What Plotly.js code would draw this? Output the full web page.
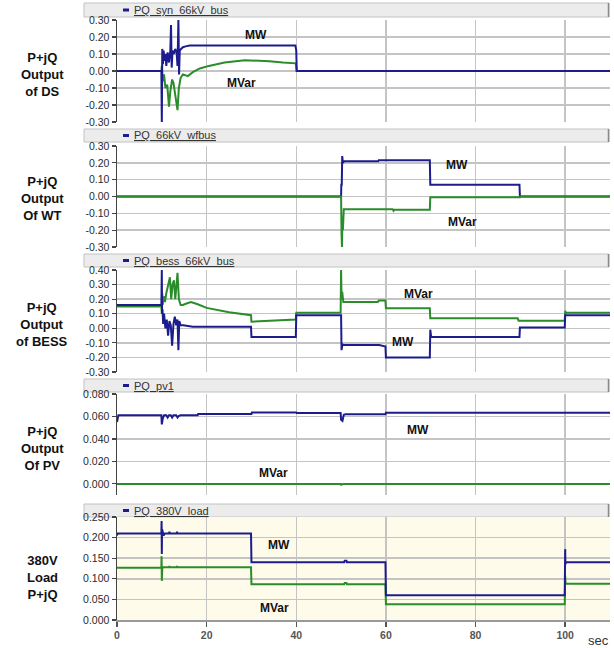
<!DOCTYPE html>
<html><head><meta charset="utf-8">
<script src="https://cdn.plot.ly/plotly-3.0.1.min.js"></script>
<style>html,body{margin:0;padding:0;background:#fff;}#chart{width:614px;height:648px;}</style>
</head><body><div id="chart"></div>
<script>
// ---------- DATA ----------
const xTicks = [0, 20, 40, 60, 80, 100];

const ds_mw_t = [0, 9.9, 10.0, 10.1, 10.25, 10.4, 10.6, 10.8, 11.0, 11.3, 11.6, 11.9, 12.05, 12.2, 12.4, 12.7, 13.0, 13.3, 13.5, 13.7, 13.85, 14.0, 14.3, 14.7, 15.3, 16.2, 20, 30, 39.8, 40.0, 40.1, 110];
const ds_mw = [0, 0, -0.30, 0.13, 0.04, 0.12, 0.06, 0.10, 0.03, 0.11, 0.05, 0.12, 0.27, 0.02, 0.12, 0.10, 0.13, 0.11, 0.03, 0.30, -0.02, 0.12, 0.13, 0.14, 0.145, 0.15, 0.15, 0.15, 0.15, 0.12, 0, 0];
const ds_mvar_t = [0, 9.9, 10.0, 10.2, 10.5, 10.8, 11.2, 11.6, 11.9, 12.3, 12.6, 13.0, 13.5, 13.8, 14.2, 14.7, 15.3, 15.8, 17.0, 18.5, 20.5, 24, 28.5, 31, 34, 37, 39.9, 40.0, 40.1, 110];
const ds_mvar = [0, 0, 0.03, -0.06, -0.02, -0.10, -0.08, -0.21, -0.12, -0.05, -0.07, -0.15, -0.23, -0.10, -0.04, -0.02, -0.025, -0.03, -0.005, 0.015, 0.03, 0.05, 0.063, 0.062, 0.058, 0.05, 0.045, 0.02, 0, 0];

const wt_mw_t = [0, 50.0, 50.05, 50.15, 50.25, 50.4, 50.7, 58.3, 58.4, 69.8, 69.9, 70.1, 89.8, 89.9, 110];
const wt_mw = [0, 0, 0.07, 0.07, 0.24, 0.20, 0.21, 0.21, 0.215, 0.215, 0.07, 0.07, 0.07, 0, 0];
const wt_mvar_t = [0, 50.0, 50.1, 50.2, 50.3, 50.4, 50.6, 61.5, 61.7, 61.9, 69.8, 69.9, 89.9, 90.0, 110];
const wt_mvar = [0, 0, -0.22, -0.30, -0.12, -0.20, -0.075, -0.075, -0.085, -0.078, -0.078, -0.005, -0.005, 0, 0];

const bess_mw_t = [0, 9.9, 10.0, 10.05, 10.15, 10.3, 10.5, 10.8, 11.1, 11.4, 11.7, 12.0, 12.3, 12.6, 12.9, 13.2, 13.5, 13.7, 13.9, 14.2, 14.8, 16.9, 29.9, 30.0, 39.9, 40.0, 50.0, 50.1, 50.3, 50.6, 58.5, 59.9, 60.0, 69.8, 69.9, 70.1, 89.8, 89.9, 99.9, 100.0, 110];
const bess_mw = [0.16, 0.16, 0.40, 0.10, 0.13, 0.03, 0.10, 0.00, 0.06, -0.05, 0.05, 0.02, -0.12, 0.03, 0.08, 0.02, 0.06, -0.15, 0.05, 0.02, 0.02, 0.01, 0.01, -0.06, -0.06, 0.09, 0.09, -0.15, -0.11, -0.115, -0.115, -0.125, -0.20, -0.20, -0.01, -0.06, -0.06, 0.005, 0.005, 0.09, 0.09];
const bess_mvar_t = [0, 9.9, 10.0, 10.1, 10.2, 10.4, 10.7, 11.0, 11.4, 11.8, 12.1, 12.4, 12.7, 13.0, 13.5, 13.8, 14.2, 14.7, 15.5, 16.5, 18, 20, 25, 29.9, 30.0, 33, 39.9, 40.0, 49.9, 50.0, 50.1, 50.25, 50.5, 58.2, 58.4, 59.9, 60.0, 69.8, 69.9, 89.4, 89.6, 99.9, 100.0, 100.15, 100.3, 110];
const bess_mvar = [0.15, 0.15, 0.10, 0.24, 0.16, 0.22, 0.18, 0.24, 0.30, 0.35, 0.20, 0.30, 0.33, 0.20, 0.38, 0.20, 0.16, 0.16, 0.17, 0.18, 0.165, 0.14, 0.11, 0.09, 0.045, 0.05, 0.06, 0.107, 0.107, 0.40, 0.20, 0.25, 0.18, 0.18, 0.19, 0.19, 0.137, 0.137, 0.069, 0.069, 0.052, 0.052, 0.12, 0.10, 0.107, 0.107];

const pv_mw_t = [0, 0.3, 9.9, 10.0, 10.2, 10.5, 11.0, 11.3, 11.6, 12.0, 12.3, 12.6, 13.2, 13.5, 13.8, 14.2, 18.0, 18.1, 30.0, 30.1, 40.0, 40.1, 49.9, 50.0, 50.3, 50.6, 51.0, 59.9, 60.0, 110];
const pv_mw = [0.055, 0.061, 0.061, 0.053, 0.058, 0.061, 0.061, 0.059, 0.061, 0.061, 0.059, 0.061, 0.061, 0.059, 0.0605, 0.061, 0.061, 0.0622, 0.0622, 0.0635, 0.0635, 0.063, 0.063, 0.057, 0.056, 0.0615, 0.062, 0.062, 0.0632, 0.0632];
const pv_mvar_t = [0, 49.9, 50.0, 50.3, 50.6, 110];
const pv_mvar = [0, 0, -0.0008, -0.0005, 0, 0];

const load_mw_t = [0, 0.15, 9.9, 9.95, 10.0, 10.05, 10.1, 10.2, 10.4, 10.7, 11.6, 11.7, 11.8, 13.3, 13.4, 13.5, 29.9, 30.0, 50.7, 50.8, 51.2, 51.3, 59.9, 60.0, 99.9, 100.0, 100.05, 100.15, 110];
const load_mw = [0.205, 0.21, 0.21, 0.24, 0.16, 0.22, 0.20, 0.215, 0.205, 0.21, 0.21, 0.214, 0.21, 0.21, 0.214, 0.21, 0.21, 0.14, 0.14, 0.144, 0.144, 0.14, 0.14, 0.06, 0.06, 0.172, 0.135, 0.14, 0.14];
const load_mvar_t = [0, 9.9, 9.95, 10.0, 10.05, 10.1, 10.3, 11.6, 11.7, 11.8, 13.3, 13.4, 13.5, 29.9, 30.0, 50.7, 50.8, 51.2, 51.3, 59.9, 60.0, 99.9, 100.0, 100.1, 110];
const load_mvar = [0.127, 0.127, 0.155, 0.095, 0.135, 0.125, 0.128, 0.128, 0.131, 0.128, 0.128, 0.131, 0.128, 0.128, 0.087, 0.087, 0.09, 0.09, 0.087, 0.087, 0.038, 0.038, 0.108, 0.088, 0.088];

const yTicksPQ = [-0.3, -0.2, -0.1, 0, 0.1, 0.2, 0.3];
const yTextPQ = ['-0.30', '-0.20', '-0.10', '0.00', '0.10', '0.20', '0.30'];
const yTicksBess = [-0.3, -0.2, -0.1, 0, 0.1, 0.2, 0.3, 0.4];
const yTextBess = ['-0.30', '-0.20', '-0.10', '0.00', '0.10', '0.20', '0.30', '0.40'];
const yTicksPV = [0, 0.02, 0.04, 0.06, 0.08];
const yTextPV = ['0.000', '0.020', '0.040', '0.060', '0.080'];
const yTicksLoad = [0, 0.05, 0.1, 0.15, 0.2, 0.25];
const yTextLoad = ['0.000', '0.050', '0.100', '0.150', '0.200', '0.250'];

const headerNames = ['PQ_syn_66kV_bus', 'PQ_66kV_wfbus', 'PQ_bess_66kV_bus', 'PQ_pv1', 'PQ_380V_load'];
const sideLabels = ['P+jQ<br>Output<br>of DS', 'P+jQ<br>Output<br>Of WT', 'P+jQ<br>Output<br>of BESS', 'P+jQ<br>Output<br>Of PV', '380V<br>Load<br>P+jQ'];

// in-plot labels: [panel, text, t, value]
const inLabels = [
  [1, 'MW', 31.1, 0.21], [1, 'MVar', 27.7, -0.069],
  [2, 'MW', 75.9, 0.19], [2, 'MVar', 77.1, -0.154],
  [3, 'MVar', 67.2, 0.233], [3, 'MW', 63.9, -0.092],
  [4, 'MW', 67.1, 0.0476], [4, 'MVar', 35.0, 0.0096],
  [5, 'MW', 36.2, 0.181], [5, 'MVar', 35.2, 0.0285]
];

// ---------- LAYOUT GEOMETRY ----------
const L = 117, R = 4, T = 0, B = 28, FW = 614, FH = 648;
const PW = FW - L - R, PH = FH - T - B;
const fx = px => (px - L) / PW;
const fy = py => (PH - (py - T)) / PH;

const plotPx = [[20, 122], [146, 247], [270, 372], [394, 495], [517, 620]];
const headPx = [[3, 17], [129, 142], [254, 267], [379, 392], [504, 517]];
const sidePy = [74, 198, 324, 449, 577];
const yRanges = [[-0.3, 0.3], [-0.3, 0.3], [-0.3, 0.4], [-0.0099, 0.08], [0, 0.25]];
const yTickSets = [[yTicksPQ, yTextPQ], [yTicksPQ, yTextPQ], [yTicksBess, yTextBess], [yTicksPV, yTextPV], [yTicksLoad, yTextLoad]];
const greenOnTop = [false, true, false, false, false];

const BLUE = '#1c1c8e', GREEN = '#2a8c2a';
const series = [
  [ds_mw_t, ds_mw, ds_mvar_t, ds_mvar],
  [wt_mw_t, wt_mw, wt_mvar_t, wt_mvar],
  [bess_mw_t, bess_mw, bess_mvar_t, bess_mvar],
  [pv_mw_t, pv_mw, pv_mvar_t, pv_mvar],
  [load_mw_t, load_mw, load_mvar_t, load_mvar]
];

const traces = [];
const layout = {
  width: FW, height: FH,
  margin: {l: L, r: R, t: T, b: B},
  paper_bgcolor: '#ffffff', plot_bgcolor: 'rgba(0,0,0,0)',
  showlegend: false,
  font: {family: 'Liberation Sans, Arial, sans-serif', color: '#222'},
  shapes: [], annotations: []
};

series.forEach((s, i) => {
  const n = i + 1, sx = n === 1 ? '' : String(n);
  const g = {x: s[2], y: s[3], xaxis: 'x' + sx, yaxis: 'y' + sx, type: 'scatter', mode: 'lines',
    line: {color: GREEN, width: 2}, hoverinfo: 'skip'};
  const b = {x: s[0], y: s[1], xaxis: 'x' + sx, yaxis: 'y' + sx, type: 'scatter', mode: 'lines',
    line: {color: BLUE, width: 2}, hoverinfo: 'skip'};
  if (greenOnTop[i]) { traces.push(b, g); } else { traces.push(g, b); }

  const isBottom = n === 5;
  layout['xaxis' + sx] = {
    domain: [0, 1], anchor: 'y' + sx, range: [0, 110],
    tickmode: 'array', tickvals: xTicks, ticktext: xTicks.map(String),
    showticklabels: isBottom, ticks: isBottom ? 'outside' : '', ticklen: 5, tickcolor: '#555', tickwidth: 1.5,
    tickfont: {size: 10.5, color: '#555', weight: 'bold'},
    showgrid: true, gridcolor: '#c4c4c4', gridwidth: 1.5, zeroline: false,
    showline: isBottom, linecolor: '#9a9a9a', linewidth: 1.5, fixedrange: true
  };
  layout['yaxis' + sx] = {
    domain: [fy(plotPx[i][1]), fy(plotPx[i][0])], anchor: 'x' + sx, range: yRanges[i],
    tickmode: 'array', tickvals: yTickSets[i][0], ticktext: yTickSets[i][1],
    ticks: 'outside', ticklen: 4, tickcolor: '#444', tickwidth: 1.2,
    tickfont: {size: 10.5, color: '#2a2a2a'},
    showgrid: true, gridcolor: '#c4c4c4', gridwidth: 1.5, zeroline: false,
    showline: true, linecolor: '#444', linewidth: 1.5, fixedrange: true
  };

  // header band
  layout.shapes.push({type: 'rect', xref: 'paper', yref: 'paper',
    x0: fx(84), x1: fx(609), y0: fy(headPx[i][1]), y1: fy(headPx[i][0]),
    fillcolor: '#ececec', line: {color: '#c2c2c2', width: 1}, layer: 'below'});
  layout.shapes.push({type: 'line', xref: 'paper', yref: 'paper',
    x0: fx(608.5), x1: fx(608.5), y0: fy(headPx[i][1]), y1: fy(headPx[i][0]),
    line: {color: '#8a8a8a', width: 1.5}});
  const hc = (headPx[i][0] + headPx[i][1]) / 2;
  layout.shapes.push({type: 'rect', xref: 'paper', yref: 'paper',
    x0: fx(123), x1: fx(129), y0: fy(hc + 1.5), y1: fy(hc - 1.5),
    fillcolor: BLUE, line: {width: 0}});
  layout.annotations.push({xref: 'paper', yref: 'paper', x: fx(132), y: fy(hc), xanchor: 'left', yanchor: 'middle',
    text: '<span style="text-decoration:underline">' + headerNames[i] + '</span>', showarrow: false,
    font: {size: 11, color: '#333'}});

  // side label
  layout.annotations.push({xref: 'paper', yref: 'paper', x: fx(42), y: fy(sidePy[i]), xanchor: 'center', yanchor: 'middle',
    text: sideLabels[i], showarrow: false, align: 'center',
    font: {size: 13, color: '#111', weight: 'bold'}});
});

// cream background for load panel
layout.shapes.push({type: 'rect', xref: 'x5 domain', yref: 'y5 domain', x0: 0, x1: 1, y0: 0, y1: 1,
  fillcolor: '#fffbea', line: {width: 0}, layer: 'below'});

inLabels.forEach(a => {
  const sx = a[0] === 1 ? '' : String(a[0]);
  layout.annotations.push({xref: 'x' + sx, yref: 'y' + sx, x: a[2], y: a[3], text: a[1], showarrow: false,
    xanchor: 'center', yanchor: 'middle', font: {size: 12, color: '#111', weight: 'bold'}});
});

layout.annotations.push({xref: 'paper', yref: 'paper', x: fx(598), y: fy(640), text: 'sec', showarrow: false,
  xanchor: 'center', yanchor: 'middle', font: {size: 13, color: '#333'}});

Plotly.newPlot('chart', traces, layout, {displayModeBar: false, staticPlot: true});
</script></body></html>
